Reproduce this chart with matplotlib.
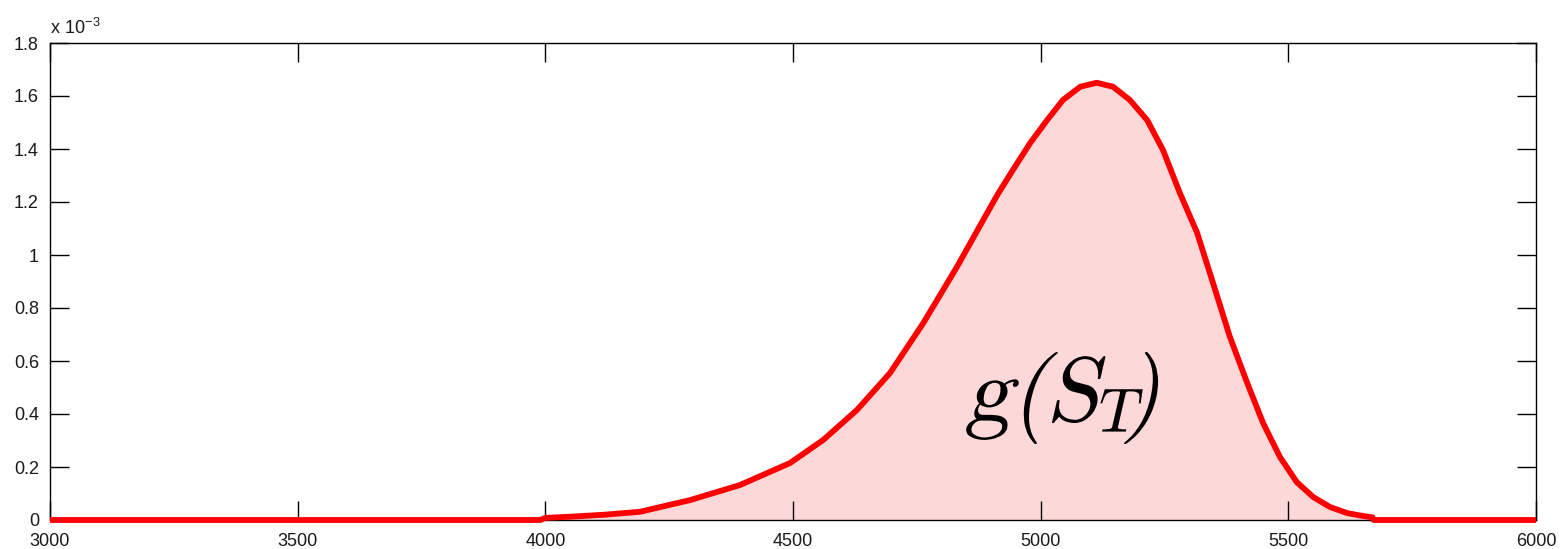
import matplotlib.pyplot as plt
from matplotlib.textpath import TextPath
from matplotlib.patches import PathPatch
from matplotlib.path import Path
from matplotlib.transforms import Affine2D
from matplotlib.font_manager import FontProperties

plt.rcParams['mathtext.fontset'] = 'cm'
plt.rcParams['font.family'] = ['Liberation Sans', 'DejaVu Sans']

# density values (y in units of 1e-3)
s_t = [3000, 3990, 4000, 4056, 4120, 4191, 4292, 4393, 4494, 4561,
       4629, 4696, 4763, 4831, 4884, 4912, 4944, 4979, 5013, 5045,
       5080, 5113, 5146, 5180, 5215, 5247, 5281, 5316, 5348, 5382,
       5417, 5449, 5483, 5517, 5550, 5584, 5619, 5651, 5670, 5672,
       6000]
g_st = [0, 0, 0.008, 0.013, 0.02, 0.031, 0.075, 0.132, 0.215, 0.302,
        0.415, 0.555, 0.743, 0.955, 1.132, 1.225, 1.321, 1.423, 1.509, 1.585,
        1.635, 1.65, 1.635, 1.585, 1.509, 1.396, 1.234, 1.083, 0.894, 0.691,
        0.517, 0.366, 0.238, 0.143, 0.087, 0.049, 0.026, 0.015, 0.01, 0,
        0]

xticks = [3000, 3500, 4000, 4500, 5000, 5500, 6000]
yticks = [0, 0.2, 0.4, 0.6, 0.8, 1.0, 1.2, 1.4, 1.6, 1.8]
ytick_labels = ['0', '0.2', '0.4', '0.6', '0.8', '1', '1.2', '1.4', '1.6', '1.8']

fig = plt.figure(figsize=(15.61, 5.49), dpi=100)
ax = fig.add_axes([50 / 1561, 29 / 549, 1486 / 1561, 477 / 549])

ax.fill_between(s_t, g_st, 0, color='#fdd8d8', linewidth=0)
ax.plot(s_t, g_st, color='#ff0000', linewidth=4.2, clip_on=False, zorder=5,
        solid_joinstyle='round', solid_capstyle='butt')

ax.set_xlim(3000, 6000)
ax.set_ylim(0, 1.8)
ax.set_xticks(xticks)
ax.set_yticks(yticks)
ax.set_yticklabels(ytick_labels)
ax.tick_params(direction='in', length=14, width=1, top=True, right=True,
               labelsize=13, colors='black', labelcolor='#1a1a1a')
ax.tick_params(axis='x', pad=9)
ax.tick_params(axis='y', pad=8)
for sp in ax.spines.values():
    sp.set_linewidth(1)

fig.text(50 / 1561, 1 - 34 / 549, r'x 10$^{\mathregular{-3}}$', fontsize=13,
         color='#1a1a1a', ha='left', va='baseline')

# slanted roman label g(S_T), built from pieces so the subscript sits tight
cm = FontProperties(math_fontfamily='cm')
p1 = TextPath((0, 0), r'$\mathrm{g(S}$', size=92, prop=cm)
x1 = p1.get_extents().x1
p2 = TextPath((x1 + 1, -11), r'$\mathrm{T}$', size=62, prop=cm)
p3 = TextPath((x1 + 31, 0), r'$\mathrm{)}$', size=92, prop=cm)
label = Path.make_compound_path(p1, p2, p3)
ext = label.get_extents()
tr = Affine2D().translate(-ext.x0, 0).skew_deg(13, 0).translate(968, 549 - 421)
fig.add_artist(PathPatch(label, transform=tr, facecolor='black',
                         edgecolor='none', zorder=6))

fig.savefig('out.png', dpi=100)
